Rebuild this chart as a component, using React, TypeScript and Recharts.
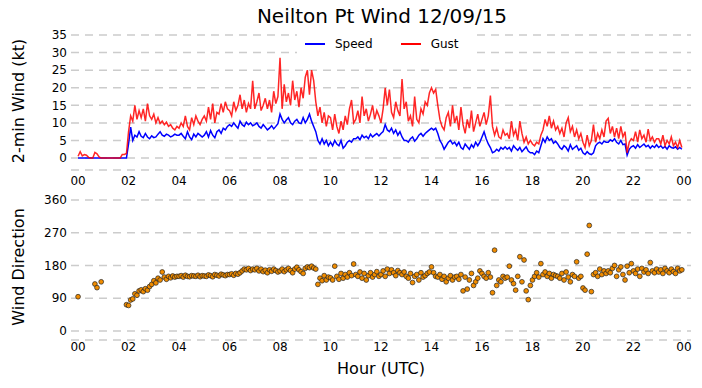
import React from "react";
import {
  LineChart,
  Line,
  ScatterChart,
  Scatter,
  XAxis,
  YAxis,
  CartesianGrid,
} from "recharts";

// 5-minute samples, one row per hour (00..23 UTC)
const SPEED = [
  0, 0, 0, 0, 0, 0, 0, 0, 0, 0, 0, 0,
  0, 0, 0, 0, 0, 0, 0, 0, 0, 0, 0, 0,
  4.0, 8.8, 5.0, 6.5, 6.0, 7.5, 6.2, 5.8, 7.0, 6.0, 5.5, 6.3,
  5.8, 6.0, 6.8, 7.5, 6.5, 6.2, 6.8, 6.5, 6.0, 6.3, 6.8, 6.5,
  6.5, 7.0, 6.2, 5.5, 7.5, 6.0, 5.2, 6.8, 6.0, 7.0, 6.5, 6.0,
  6.5, 7.5, 6.0, 7.8, 6.5, 5.8, 7.5, 8.0, 7.0, 8.5, 8.0, 9.0,
  9.5, 9.0, 10.0, 9.2, 8.5, 10.5, 9.5, 9.0, 10.2, 9.5, 10.0, 9.2,
  9.5, 10.0, 9.0, 8.5, 9.5, 8.8, 8.0, 8.5, 9.2, 8.3, 9.0, 9.8,
  12.5, 11.0, 10.0, 10.8, 11.5, 10.0, 9.5, 10.5, 11.0, 10.0, 9.8, 11.5,
  10.0, 11.0, 12.5, 10.5, 9.0, 7.5, 5.0, 4.0, 5.5, 4.0, 5.0, 3.5,
  4.5, 3.5, 5.0, 4.0, 3.5, 5.0, 2.8, 3.5, 4.5, 5.0, 4.5, 5.5,
  5.5, 6.0, 5.2, 6.5, 5.8, 6.2, 5.5, 6.8, 6.0, 6.5, 7.0, 6.3,
  7.0, 7.5, 9.5, 8.0, 7.5, 8.5, 7.0, 8.0, 6.5, 7.5, 6.0, 5.0,
  5.0, 4.5, 5.5, 6.0, 4.8, 5.5, 6.5, 7.0, 6.2, 7.0, 7.5, 8.0,
  8.5, 8.0, 8.5, 7.0, 5.0, 4.0, 2.5, 3.5, 4.5, 5.0, 4.0, 4.5,
  3.5, 4.5, 3.0, 2.5, 4.0, 3.2, 2.5, 3.8, 3.0, 4.5, 3.5, 4.5,
  6.0, 7.5, 5.5, 4.0, 3.0, 1.5, 1.8, 2.5, 2.0, 3.0, 2.5, 3.2,
  2.5, 3.0, 2.0, 3.5, 2.8, 2.2, 3.0, 1.8, 2.5, 3.2, 2.0, 1.5,
  1.5, 1.0, 2.0, 1.5, 3.5, 5.5, 4.5, 6.0, 5.0, 5.5, 4.2, 4.8,
  4.0, 3.0, 2.5, 3.5, 3.0, 2.0, 3.8, 2.5, 3.0, 3.5, 2.2, 2.8,
  1.5, 1.0, 1.8, 1.2, 1.0, 1.5, 3.5, 4.2, 4.5, 4.0, 4.8, 4.5,
  4.5, 5.2, 4.8, 5.5, 4.5, 4.0, 5.0, 3.8, 4.0, 0.8, 2.5, 3.2,
  3.5, 2.8, 3.8, 3.0, 3.5, 4.0, 3.2, 3.6, 2.8, 3.5, 3.0, 3.8,
  3.0, 3.5, 2.8, 3.3, 2.5, 3.5, 3.0, 2.8, 3.2, 2.5, 3.0, 2.5,
];

const GUST = [
  0.5, 1.8, 0.6, 1.0, 0.8, 0.2, 0, 0, 1.6, 1.2, 0.3, 0,
  0, 0, 0, 0, 0, 0, 0, 0, 0, 1.0, 1.0, 1.3,
  7.5, 12.0, 10.5, 15.0, 11.0, 13.5, 11.5, 14.0, 10.5, 15.5, 12.0, 11.0,
  12.5, 10.0, 11.5, 9.8, 10.5, 9.5, 10.2, 9.0, 9.5, 8.5, 8.0, 9.0,
  8.5, 10.0, 9.0, 12.0, 9.0, 8.0, 11.5, 9.5, 12.0, 10.5, 9.5, 11.0,
  12.0, 10.5, 14.5, 11.0, 15.5, 10.0, 13.0, 12.5, 15.5, 13.0, 16.0, 14.0,
  13.5, 12.0, 16.0, 13.5, 15.0, 18.0, 14.0, 16.5, 13.0, 15.5, 14.0, 22.0,
  14.0, 16.0, 18.5, 13.5, 15.0, 17.0, 14.0, 16.5, 13.0, 19.0, 15.5, 17.5,
  28.5, 14.0, 21.0, 16.0, 18.5, 15.0, 22.0, 16.5, 19.0, 14.5, 20.0, 17.0,
  23.0, 25.0, 18.0, 25.0, 22.0, 16.0, 12.0, 14.5, 10.0, 13.0, 9.0, 12.0,
  11.5, 8.0, 12.5, 9.0, 7.0, 10.5, 8.0, 12.0, 9.5, 14.0, 16.5, 10.0,
  11.0, 13.5, 10.0, 17.5, 12.0, 14.0, 10.5, 12.5, 15.0, 11.0, 13.5, 12.0,
  10.0, 14.0, 20.0, 15.0, 19.5, 13.0, 11.5, 16.0, 13.5, 12.0, 22.5, 14.0,
  16.0, 10.5, 12.0, 9.0, 17.5, 11.0, 10.0, 14.0, 12.5, 16.0, 15.0, 18.5,
  20.0, 18.5, 19.5, 15.0, 11.0, 9.0, 8.0, 11.5, 13.0, 9.0, 15.0, 10.0,
  12.0, 8.0, 14.5, 9.5, 7.0, 11.0, 8.5, 13.5, 7.5, 10.0, 12.5, 9.0,
  11.0, 13.0, 9.5, 12.0, 17.8, 9.0, 6.5, 8.5, 6.0, 5.5, 8.0, 6.5,
  7.0, 5.5, 10.5, 6.5, 8.0, 5.0, 10.5, 7.0, 4.5, 6.0, 4.0, 5.0,
  4.0, 3.5, 4.5, 4.0, 6.5, 8.0, 11.0, 9.0, 12.0, 8.5, 10.5, 8.0,
  9.0, 7.0, 8.5, 6.0, 10.0, 11.5, 7.5, 9.0, 6.0, 8.0, 5.5, 7.0,
  4.5, 3.0, 6.5, 3.5, 5.0, 9.5, 4.5, 7.0, 5.5, 8.0, 6.0, 10.5,
  11.3, 7.0, 9.0, 6.0, 8.5, 5.5, 9.0, 6.0, 7.5, 1.5, 4.5, 5.5,
  5.0, 7.5, 4.5, 8.0, 5.5, 6.5, 4.5, 8.2, 5.0, 6.0, 4.5, 5.5,
  5.5, 4.0, 6.5, 3.5, 5.0, 4.0, 6.0, 3.5, 4.5, 3.0, 5.0, 3.0,
];

// wind direction (deg), null = no reading
const DIRECTION: (number | null)[] = [
  94, null, null, null, null, null, null, null, 129, 119, null, 135,
  null, null, null, null, null, null, null, null, null, null, null, 72,
  70, 85, 88, 102, 98, 110, 113, 108, 116, 112, 122, 128,
  138, 132, 145, 140, 162, 148, 142, 150, 146, 151, 148, 150,
  150, 152, 148, 153, 150, 149, 152, 151, 150, 153, 149, 152,
  151, 150, 154, 152, 149, 155, 153, 151, 156, 154, 152, 155,
  155, 157, 153, 158, 156, 160, 165, 170, 168, 172, 166, 170,
  168, 172, 165, 170, 163, 167, 160, 168, 164, 170, 166, 162,
  165, 170, 163, 168, 172, 166, 160, 170, 175, 168, 163, 158,
  172, 176, 174, 178, 173, 170, 128, 145, 138, 152, 140, 148,
  146, 140, 178, 150, 142, 158, 145, 155, 148, 160, 152, 184,
  155, 150, 162, 145, 158, 140, 152, 160, 148, 155, 163, 150,
  155, 165, 150, 170, 158, 168, 160, 152, 166, 160, 155, 162,
  150, 145, 158, 133, 150, 155, 140, 160, 148, 152, 158, 162,
  176, 160, 150, 148, 155, 142, 150, 135, 145, 152, 140, 148,
  150, 142, 155, 110, 148, 115, 140, 158, 125, 135, 145, 165,
  158, 150, 145, 160, 148, 105, 222, 125, 140, 135, 150, 145,
  148, 178, 140, 130, 112, 150, 204, 135, 195, 110, 86, 125,
  140, 150, 160, 148, 185, 155, 162, 150, 158, 145, 155, 152,
  150, 145, 158, 140, 162, 148, 135, 155, 150, 190, 145, 150,
  118, 112, 211, 290, 108, 155, 160, 150, 170, 155, 165, 158,
  165, 160, 172, 180, 150, 168, 176, 155, 140, 178, 160, 185,
  165, 158, 170, 150, 172, 162, 168, 158, 188, 165, 160, 170,
  162, 168, 158, 172, 165, 160, 170, 163, 158, 172, 165, 168,
];

const HOUR_TICKS = [0, 2, 4, 6, 8, 10, 12, 14, 16, 18, 20, 22, 24];
const SPEED_TICKS = [0, 5, 10, 15, 20, 25, 30, 35];
const DIR_TICKS = [0, 90, 180, 270, 360];

const STEP = 5 / 60;
const windData = SPEED.map((v, i) => ({ t: i * STEP, speed: v, gust: GUST[i] }));
const dirData = DIRECTION.map((d, i) => ({ t: i * STEP, dir: d })).filter(
  (p) => p.dir !== null
);

const FONT = "DejaVu Sans";
const fmtHour = (h: number) => String(h % 24).padStart(2, "0");
const tickStyle = { fontSize: 12, fill: "#000", fontFamily: FONT };

const Dot = (props: any) => (
  <circle cx={props.cx} cy={props.cy} r={2.4} fill="#f08c00" stroke="#222" strokeWidth={0.7} />
);

const LegendItem = ({ color, label }: { color: string; label: string }) => (
  <div style={{ display: "flex", alignItems: "center", marginRight: 28 }}>
    <div style={{ width: 20, height: 2, background: color, marginRight: 10 }} />
    <span>{label}</span>
  </div>
);

export default function App() {
  return (
    <div style={{ position: "absolute", left: 0, top: 0, width: 702, height: 388, background: "#fff", fontFamily: FONT }}>
      <div style={{ position: "absolute", left: 0, width: 764, top: 4, textAlign: "center", fontSize: 20 }}>
        Neilton Pt Wind 12/09/15
      </div>

      <div style={{ position: "absolute", left: 0, top: 0 }}>
        <LineChart width={702} height={190} data={windData} margin={{ top: 35, right: 11, left: 0, bottom: 0 }}>
          <CartesianGrid vertical={false} stroke="#cccccc" strokeWidth={1.5} strokeDasharray="8 6" />
          <XAxis
            dataKey="t"
            type="number"
            domain={[-0.28, 24.28]}
            ticks={HOUR_TICKS}
            tickFormatter={fmtHour}
            axisLine={false}
            tickLine={false}
            tickSize={0}
            tickMargin={6.5}
            height={20}
            tick={tickStyle}
            interval={0}
          />
          <YAxis
            type="number"
            domain={[-3.4, 35]}
            ticks={SPEED_TICKS}
            axisLine={false}
            tickLine={false}
            tickSize={0}
            tickMargin={4}
            width={71}
            tick={tickStyle}
            interval={0}
            label={() => (
              <text x={24} y={101} transform="rotate(-90 24 101)" textAnchor="middle" fontSize={16} fontFamily={FONT}>
                2-min Wind (kt)
              </text>
            )}
          />
          <Line type="linear" dataKey="speed" stroke="#0000ff" strokeWidth={1.5} dot={false} isAnimationActive={false} />
          <Line type="linear" dataKey="gust" stroke="#ff0000" strokeOpacity={0.85} strokeWidth={1.5} dot={false} isAnimationActive={false} />
        </LineChart>
      </div>

      <div
        style={{
          position: "absolute",
          left: 297,
          top: 30,
          width: 175,
          height: 27,
          background: "#fff",
          display: "flex",
          alignItems: "center",
          paddingLeft: 8,
          boxSizing: "border-box",
          fontSize: 12,
        }}
      >
        <LegendItem color="#0000ff" label="Speed" />
        <LegendItem color="#ff0000" label="Gust" />
      </div>

      <div style={{ position: "absolute", left: 0, top: 185 }}>
        <ScatterChart width={702} height={203} margin={{ top: 15, right: 11, left: 0, bottom: 0 }}>
          <CartesianGrid vertical={false} stroke="#cccccc" strokeWidth={1.5} strokeDasharray="8 6" />
          <XAxis
            dataKey="t"
            type="number"
            domain={[-0.28, 24.28]}
            ticks={HOUR_TICKS}
            tickFormatter={fmtHour}
            axisLine={false}
            tickLine={false}
            tickSize={0}
            tickMargin={2.6}
            height={48}
            tick={tickStyle}
            interval={0}
            label={() => (
              <text x={381} y={189} textAnchor="middle" fontSize={16} fontFamily={FONT}>
                Hour (UTC)
              </text>
            )}
          />
          <YAxis
            dataKey="dir"
            type="number"
            domain={[-25, 360]}
            ticks={DIR_TICKS}
            axisLine={false}
            tickLine={false}
            tickSize={0}
            tickMargin={4}
            width={71}
            tick={tickStyle}
            interval={0}
            label={() => (
              <text x={24} y={82} transform="rotate(-90 24 82)" textAnchor="middle" fontSize={16} fontFamily={FONT}>
                Wind Direction
              </text>
            )}
          />
          <Scatter data={dirData} dataKey="dir" shape={Dot} isAnimationActive={false} />
        </ScatterChart>
      </div>
    </div>
  );
}
